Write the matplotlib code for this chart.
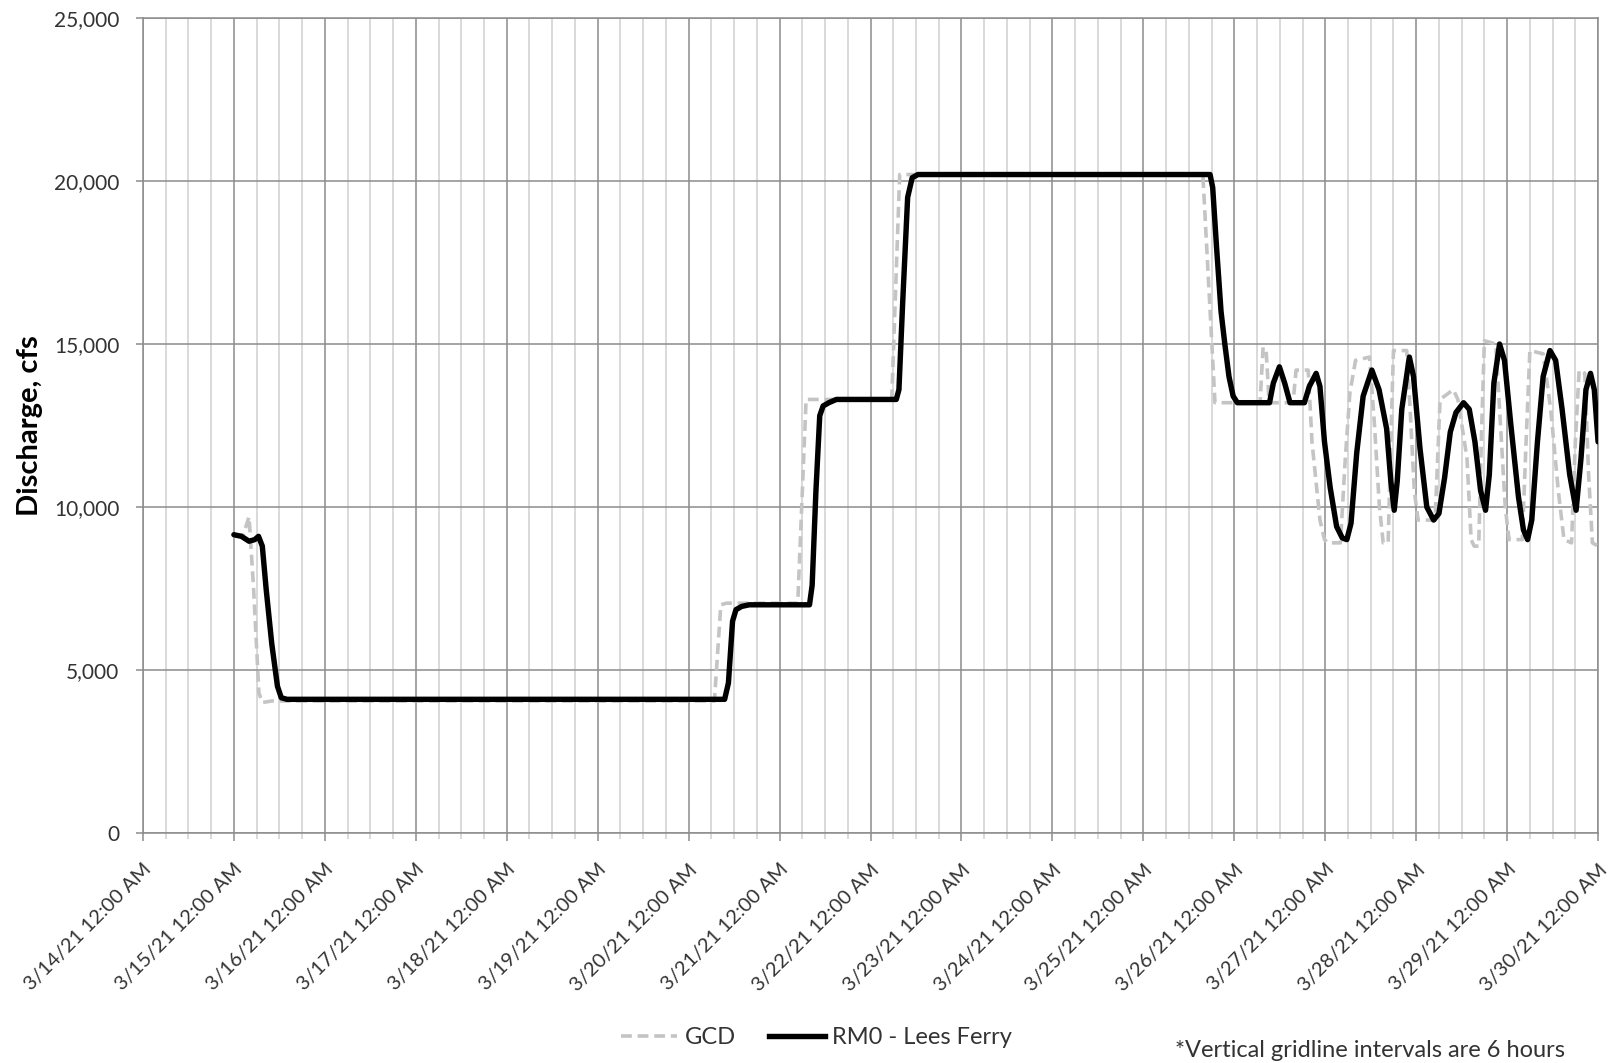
import pandas as pd
import matplotlib.pyplot as plt
import matplotlib.dates as mdates
from matplotlib.ticker import FuncFormatter
from matplotlib.lines import Line2D

plt.rcParams['font.family'] = ['Lato', 'DejaVu Sans']

start = pd.Timestamp("2021-03-14 00:00")
end = pd.Timestamp("2021-03-30 00:00")

# RM0 - Lees Ferry (hours after 3/14/21 12:00 AM, discharge cfs)
rm0_hours = [24.0, 26.0, 28.0, 29.5, 30.5, 31.5, 32.5, 34.0, 35.5, 36.5, 38.0,
             153.5, 154.5, 155.6, 156.5, 158.0, 160.0,
             175.9, 176.6, 177.6, 178.6, 179.5, 181.0, 183.0,
             198.8, 199.5, 200.5, 201.8, 203.0, 204.5,
             281.6, 282.3, 283.3, 284.5, 285.5, 286.6, 287.7, 288.8,
             297.3, 298.3, 299.9, 301.3, 302.7, 306.5, 307.8, 309.6, 310.6,
             311.8, 313.3, 315.0, 316.5, 317.7, 318.8, 320.3, 322.0, 324.3,
             326.2, 328.2, 329.3, 330.2, 331.0, 332.2, 334.2, 335.3, 337.0,
             338.8, 340.6, 342.0, 343.5, 345.0, 346.5, 348.5, 350.0, 351.5,
             353.0, 354.3, 355.3, 356.5, 358.0, 359.3, 361.0, 363.0, 364.3,
             365.4, 366.5, 368.0, 369.5, 371.3, 372.8, 374.5, 376.5, 378.2,
             379.5, 380.8, 382.0, 383.0, 384.0]
rm0_cfs = [9150, 9100, 8950, 9000, 9100, 8800, 7500, 5800, 4500, 4150, 4100,
           4100, 4600, 6500, 6850, 6950, 7000,
           7000, 7600, 10500, 12800, 13100, 13200, 13300,
           13300, 13600, 16300, 19500, 20100, 20200,
           20200, 19800, 18000, 16000, 15000, 14000, 13400, 13200,
           13200, 13800, 14300, 13800, 13200, 13200, 13700, 14100, 13700,
           12000, 10600, 9400, 9050, 9000, 9500, 11650, 13400, 14200,
           13600, 12400, 10800, 9900, 10800, 13000, 14600, 14000, 11800,
           10000, 9600, 9800, 10900, 12300, 12900, 13200, 13000, 12000,
           10500, 9900, 11000, 13800, 15000, 14500, 12500, 10300, 9300,
           9000, 9600, 12000, 14000, 14800, 14500, 13000, 11000, 9900,
           11500, 13600, 14100, 13600, 12000]

# GCD release
gcd_hours = [24.0, 26.5, 28.0, 29.2, 30.6, 31.5, 34.0,
             150.8, 152.5, 154.0, 172.8, 175.0, 197.6, 199.7,
             279.7, 282.9, 294.8, 295.6, 296.4, 297.2, 303.5, 304.3, 307.5,
             308.5, 310.6, 311.8, 312.7, 316.0, 317.3, 318.5, 320.0, 323.7,
             325.0, 326.3, 327.3, 328.6, 329.3, 330.0, 333.5, 334.4, 335.5,
             336.5, 341.0, 342.3, 345.8, 347.0, 349.4, 350.5, 351.3, 352.5,
             353.3, 354.0, 357.0, 358.0, 359.5, 360.5, 364.0, 365.0, 366.0,
             369.5, 371.5, 373.5, 375.0, 377.0, 378.0, 379.0, 380.5, 381.5,
             382.5, 384.0]
gcd_cfs = [9100, 9150, 9700, 7500, 4300, 4000, 4050,
           4050, 7000, 7050, 7050, 13300, 13300, 20200,
           20200, 13200, 13200, 14900, 14800, 13200, 13200, 14200, 14200,
           12000, 9600, 9000, 8900, 8900, 11500, 13500, 14500, 14600,
           12500, 10000, 8900, 8900, 12000, 14800, 14800, 13000, 10500,
           9600, 9600, 13300, 13600, 13300, 11500, 9000, 8800, 8800,
           12500, 15100, 15000, 13000, 10000, 9000, 9000, 12000, 14800,
           14700, 13000, 10500, 9000, 8900, 12000, 14200, 14100, 11000,
           8900, 8800]

rm0_time = start + pd.to_timedelta(rm0_hours, unit="h")
gcd_time = start + pd.to_timedelta(gcd_hours, unit="h")

fig, ax = plt.subplots(figsize=(16.17, 10.63), dpi=100)
fig.subplots_adjust(left=0.0884, right=0.9883, top=0.983, bottom=0.2164)

ax.plot(gcd_time, gcd_cfs, color="#c4c4c4", lw=2.6, dashes=(3, 1.6), zorder=3)
ax.plot(rm0_time, rm0_cfs, color="black", lw=3.9, solid_joinstyle="round",
        solid_capstyle="round", zorder=4)

ax.set_xlim(start, end)
ax.set_ylim(0, 25000)
ax.set_yticks(range(0, 25001, 5000))
ax.yaxis.set_major_formatter(FuncFormatter(lambda v, p: f"{int(v):,}"))

ax.xaxis.set_major_locator(mdates.DayLocator())
ax.xaxis.set_minor_locator(mdates.HourLocator(byhour=[6, 12, 18]))


def date_label(v, p):
    d = mdates.num2date(v)
    return f"{d.month}/{d.day}/{d:%y} {d:%I:%M %p}"


ax.xaxis.set_major_formatter(FuncFormatter(date_label))

ax.grid(True, which="major", color="#8c8c8c", lw=1.1)
ax.grid(True, which="minor", axis="x", color="#cfcfcf", lw=1.1)
ax.set_axisbelow(True)

for s in ax.spines.values():
    s.set_color("#8c8c8c")
    s.set_linewidth(1.1)

ax.tick_params(axis="x", which="major", length=6, width=1.1, color="#8c8c8c",
               labelsize=14.5, labelcolor="#333333", pad=14)
ax.tick_params(axis="x", which="minor", length=4, width=1.1, color="#cfcfcf")
ax.tick_params(axis="y", length=5, width=1.1, color="#8c8c8c",
               labelsize=15, labelcolor="#333333", pad=12)
for lab in ax.get_xticklabels():
    lab.set_rotation(45)
    lab.set_ha("right")
    lab.set_va("top")
    lab.set_rotation_mode("anchor")

ax.set_ylabel("Discharge, cfs", fontsize=21, fontweight="bold")
ax.yaxis.set_label_coords(-0.069, 0.5)

handles = [Line2D([], [], color="#c4c4c4", lw=2.6, dashes=(3, 1.6)),
           Line2D([], [], color="black", lw=3.9)]
fig.legend(handles, ["GCD", "RM0 - Lees Ferry"], loc="center",
           bbox_to_anchor=(0.505, 0.024), ncol=2, frameon=False, fontsize=17,
           handlelength=2.4, columnspacing=1.4, handletextpad=0.3,
           labelcolor="#333333")

fig.text(0.968, 0.012, "*Vertical gridline intervals are 6 hours",
         ha="right", va="center", fontsize=17, color="#333333")

plt.savefig("out.png", dpi=100)
